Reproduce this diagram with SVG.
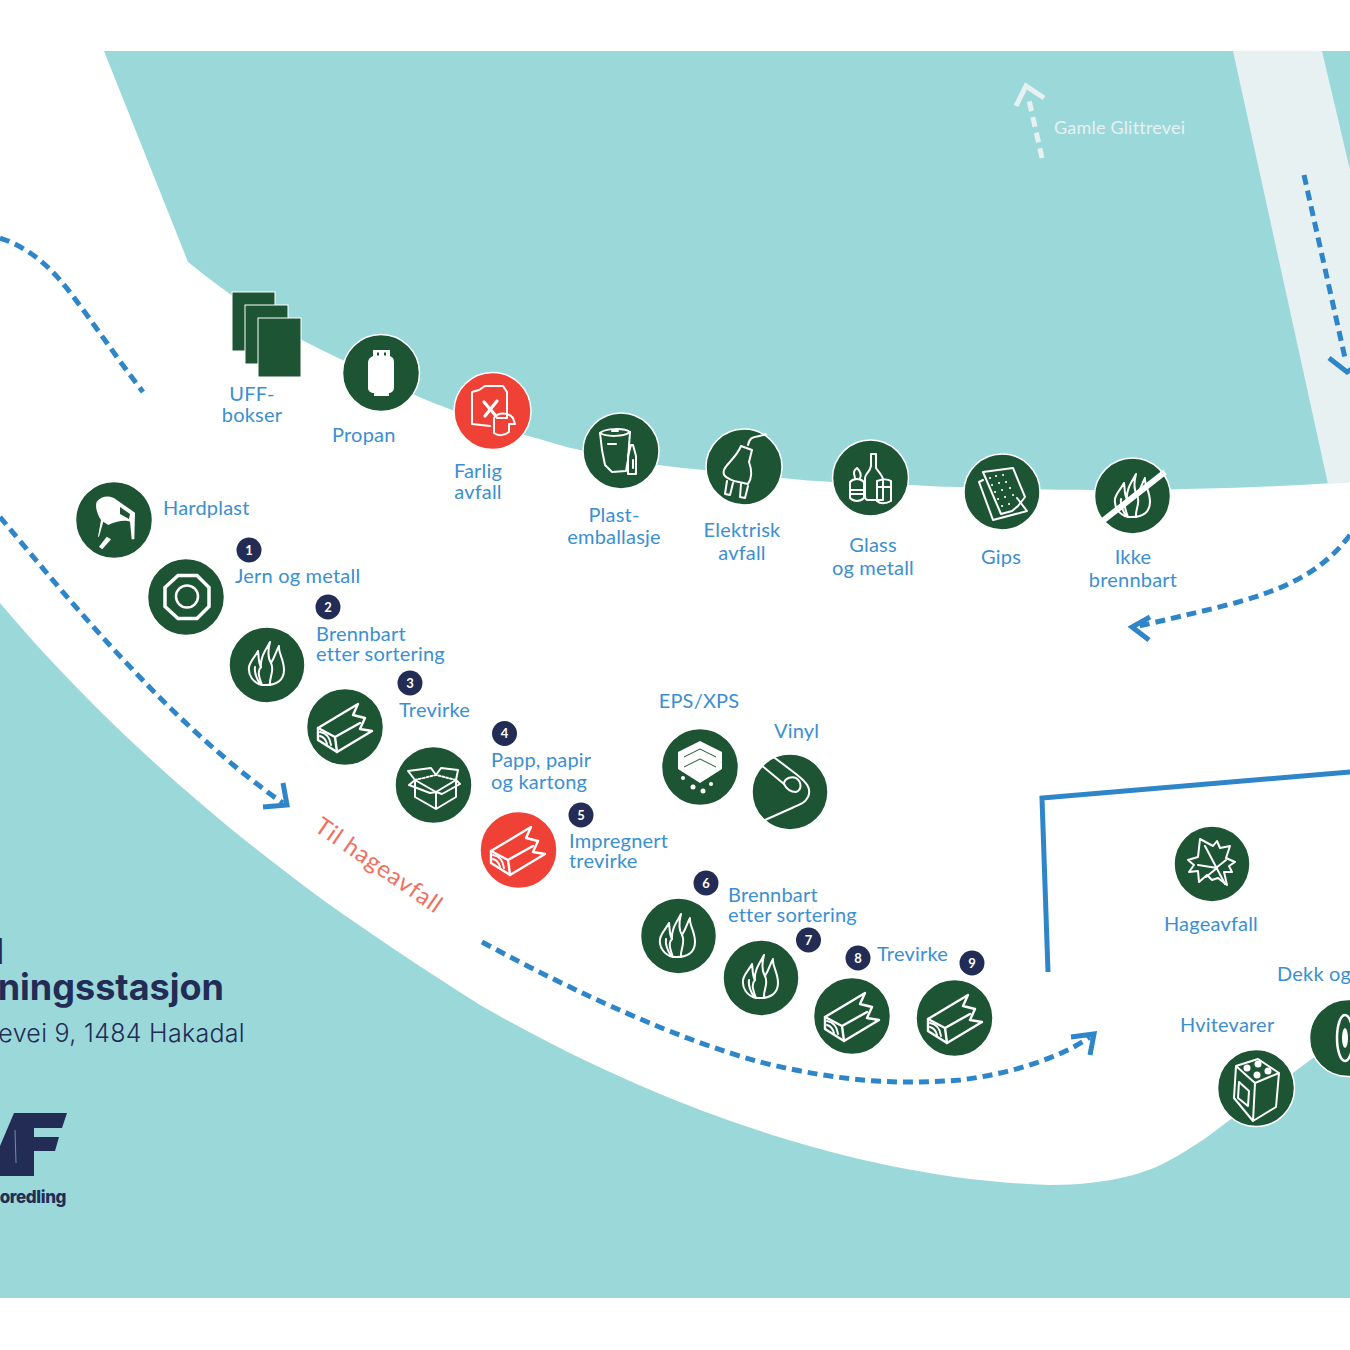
<svg xmlns="http://www.w3.org/2000/svg" width="1350" height="1350" viewBox="0 0 1350 1350">
<style>
.t{font-family:"Lato","Liberation Sans",sans-serif;font-size:20px;fill:#3b8fd1;letter-spacing:.2px}
.m{text-anchor:middle}
.d{fill:none;stroke:#2e86c9;stroke-width:5;stroke-dasharray:10 6}
.h{fill:none;stroke:#2e86c9;stroke-width:5}
.n{fill:#1d5433;stroke:#fff;stroke-width:1.5}
.r{fill:#ef4136;stroke:#fff;stroke-width:1.5}
.i{fill:none;stroke:#fff;stroke-width:2;stroke-linejoin:round;stroke-linecap:round}
.f{fill:#fff;stroke:none}
.bc{fill:#232c55}
.bt{font-family:"Lato","Liberation Sans",sans-serif;font-size:13px;font-weight:700;fill:#fff;text-anchor:middle}
.b{fill:#1d5433;stroke:#fff;stroke-width:1}
.nv{font-family:"Inter","Liberation Sans",sans-serif;fill:#232c55;text-anchor:end}
</style>
<defs>
<g id="wood" class="i">
<path d="M-27,1L13,-23L8,-12L20,-9L15,2L27,4L-8,25L-27,13Z" stroke-width="2.400"/>
<path d="M-27,1L-10,10L-8,25M-10,10L15,-4" stroke-width="2.400"/>
<path d="M-25,5C-19,6 -15,10 -14,18M-25,9C-21,10 -19,13 -18,17"/>
</g>
<g id="flame" class="i">
<path d="M-5,20C-14,18 -19,10 -18,2C-17,-4 -12,-8 -9,-14C-8,-8 -9,-3 -6,2C-7,-8 -1,-15 3,-23C1,-15 0,-8 4,-2C8,-8 9,-14 12,-19C11,-12 17,-6 17,5C17,15 10,21 -5,20Z"/>
<path d="M-5,20C-8,12 -10,6 -6,2M4,-2C8,6 2,12 3,20M-12,2C-13,8 -10,14 -7,19"/>
</g>
</defs>

<rect x="0" y="51" width="1350" height="1247" fill="#9bd8da"/>
<path id="road" d="M0,51L104,51L188,262C225,292 265,320 302,340C325,352 345,361 360,368C380,378 398,388 415,395C430,402 442,406 452,410C480,421 505,430 532,437C550,442 565,447 580,450C610,457 635,462 658,465C675,467 690,469 705,470C735,474 760,476 782,478C800,480 815,481 833,482C860,484 885,485 908,485C930,486 945,487 963,487C1010,489 1060,490 1100,490C1180,490 1260,488 1350,482L1350,1030L1313,1058L1203,1140C1190,1148 1180,1155 1170,1160C1150,1172 1110,1185 1050,1185C880,1180 680,1120 480,1005C425,970 375,937 323,900C200,810 90,710 0,603Z" fill="#fff"/>
<path id="lane" d="M1233,51L1322,51L1350,170L1350,482L1328,484Z" fill="#e8f1f2"/>

<g id="connectors">
<path class="d" d="M0,238C30,248 52,268 72,295C95,325 118,360 143,392"/>
<path class="d" d="M0,517C40,565 85,620 135,672C180,720 235,770 283,803"/>
<path class="h" d="M283,783L287,805L263,807"/>
<path class="d" d="M482,942C580,995 680,1040 760,1062C840,1082 900,1085 960,1080C1010,1074 1060,1058 1090,1037"/>
<path class="h" d="M1071,1037L1094,1034L1090,1055"/>
<path class="d" d="M1350,535C1320,575 1280,590 1235,603C1200,612 1165,620 1135,627"/>
<path class="h" d="M1150,617L1132,627L1149,640"/>
<path class="d" d="M1304,175L1345,358"/>
<path class="h" d="M1329,358L1347,372L1355,367"/>
<path d="M1042,158L1029,100" fill="none" stroke="#e8f1f2" stroke-width="5" stroke-dasharray="10 6"/>
<path d="M1016,106L1026,86L1044,98" fill="none" stroke="#e8f1f2" stroke-width="5"/>
<path class="h" d="M1048,972L1042,798L1350,772"/>
</g>

<g id="uff">
<rect class="b" x="232" y="292" width="43" height="59"/>
<rect class="b" x="245" y="305" width="43" height="59"/>
<rect class="b" x="258" y="318" width="43" height="59"/>
<text class="t m" x="252" y="401">UFF-</text>
<text class="t m" x="252" y="422">bokser</text>
</g>
<g id="propan">
<circle class="n" cx="381" cy="373" r="38.500"/>
<path class="f" d="M373,350H390V356C394,358 394,360 394,364V388C394,391 391,393 389,393V396H374V393C371,393 368,391 368,388V364C368,360 369,358 373,356Z"/>
<path d="M377,354h2M384,354h2" stroke="#1d5433" stroke-width="3" fill="none"/>
<text class="t" x="332" y="442">Propan</text>
</g>
<g id="farlig">
<circle class="r" cx="492.500" cy="411" r="38.500"/>
<g class="i" stroke-width="2">
<path d="M472,392L479,390L485,386H503L507,392V418H497M472,392V424L490,426"/>
<path d="M484,402L496,416M497,401L485,416" stroke-width="3.200"/>
<path d="M494,418C498,412 508,412 513,418L515,424H509V432C504,436 498,436 494,433Z"/>
</g>
<text class="t m" x="478" y="478">Farlig</text>
<text class="t m" x="478" y="499">avfall</text>
</g>
<g id="plast">
<circle class="n" cx="621" cy="451" r="38"/>
<g class="i" stroke-width="2">
<path d="M600,433C605,428 625,428 630,432L628,460L626,471L612,472L605,465L602,450Z"/>
<path d="M600,433C606,437 624,437 630,432M612,431H618M608,444H616"/>
<path d="M628,456L631,445H633L636,456V474H628Z"/>
<path d="M633,460V468"/>
</g>
<text class="t m" x="614" y="522">Plast-</text>
<text class="t m" x="614" y="544">emballasje</text>
</g>
<g id="elektrisk">
<circle class="n" cx="744" cy="467" r="38"/>
<g class="i" stroke-width="2">
<path d="M766,434C758,438 750,434 748,445"/>
<path d="M741,446L752,450L749,462C752,470 752,478 748,484L734,481C727,478 722,476 724,470C726,464 736,458 741,446Z"/>
<path d="M727,481L725,494L730,495L733,483M741,484L740,497L745,498L748,486"/>
</g>
<text class="t m" x="742" y="537">Elektrisk</text>
<text class="t m" x="742" y="560">avfall</text>
</g>
<g id="glass">
<circle class="n" cx="870.500" cy="478" r="38"/>
<g class="i" stroke-width="2">
<path d="M871,454H876V468C880,474 883,476 883,480V500H868C865,500 865,498 865,496V478C865,474 870,472 871,466Z"/>
<path d="M877,481C882,479 888,479 891,481V501C886,504 880,504 877,501Z M877,487H891"/>
<path d="M850,482C854,478 860,478 864,482V498C860,502 854,502 850,498Z M850,490H864M850,494H864"/>
<path d="M855,478C853,472 854,470 857,468C861,472 861,476 860,478"/>
</g>
<text class="t m" x="873" y="552">Glass</text>
<text class="t m" x="873" y="575">og metall</text>
</g>
<g id="gips">
<circle class="n" cx="1002" cy="492" r="38"/>
<g class="i" stroke-width="2">
<path d="M983,472L1013,468L1025,497L1018,506L1012,511L1001,514Z"/>
<path d="M983,480L979,482L993,520L1027,511L1017,498"/>
<path d="M990,478h.1M996,476h.1M1003,475h.1M992,485h.1M999,483h.1M1006,482h.1M995,492h.1M1002,490h.1M1010,488h.1M998,499h.1M1005,497h.1M1013,495h.1M1002,506h.1M1009,504h.1" stroke-width="2"/>
</g>
<text class="t m" x="1001" y="564">Gips</text>
</g>
<g id="ikke">
<circle class="n" cx="1132.500" cy="496" r="38"/>
<use href="#flame" transform="translate(1133,497)"/>
<path d="M1100,523L1165,472" stroke="#fff" stroke-width="6" fill="none"/>
<text class="t m" x="1133" y="564">Ikke</text>
<text class="t m" x="1133" y="587">brennbart</text>
</g>
<g id="hardplast">
<circle class="n" cx="114" cy="520" r="38.500"/>
<path class="f" d="M96.700,501.700C101.700,495 111.700,495 116.700,500L135,512.700L134.300,539.300L131.700,539.300L130,521.700C125,519.300 115,521.700 108.300,525L103.300,521.700L99,536.700L98,536.700L101,520C96.700,513.300 95,506.700 96.700,501.700Z"/>
<path d="M120,507L130,514L129,519L120,514Z" fill="#1d5433"/>
<path class="f" d="M106.700,536.700L111,539.300L102.300,549.300L99,546.700Z"/>
<text class="t" x="163" y="515">Hardplast</text>
</g>
<g id="jern">
<circle class="n" cx="186" cy="597" r="38.500"/>
<path d="M178,575.500H197L209,587.500V606.500L197,618.500H178L165,606.500V587.500Z" fill="none" stroke="#fff" stroke-width="3.500"/>
<circle cx="187" cy="596.500" r="11" fill="none" stroke="#fff" stroke-width="2.500"/>
<text class="t" x="235" y="583">Jern og metall</text>
</g>
<g id="brennbart1">
<circle class="n" cx="267" cy="665" r="38"/>
<use href="#flame" x="267" y="665"/>
<text class="t" x="316" y="641">Brennbart</text>
<text class="t" x="316" y="661">etter sortering</text>
</g>
<g id="trevirke1">
<circle class="n" cx="345" cy="727" r="38.500"/>
<use href="#wood" x="345" y="727"/>
<text class="t" x="399" y="717">Trevirke</text>
</g>
<g id="papp">
<circle class="n" cx="433.500" cy="785" r="38.500"/>
<g class="i">
<path d="M415,797L436,809L456,797V780L436,792L415,780ZM436,792V809"/>
<path d="M415,780L409,785L430,793L436,792M456,780L460,784L442,794L436,792"/>
<path d="M415,780L408,771L431,768L436,775L441,768L458,770L456,780"/>
<path d="M415,780L436,775L456,780" stroke-dasharray="2 2"/>
</g>
<text class="t" x="491" y="767">Papp, papir</text>
<text class="t" x="491" y="789">og kartong</text>
</g>
<g id="impregnert">
<circle class="r" cx="518.500" cy="850" r="38.500"/>
<use href="#wood" x="518" y="850"/>
<text class="t" x="569" y="848">Impregnert</text>
<text class="t" x="569" y="868">trevirke</text>
</g>
<g id="eps">
<circle class="n" cx="700" cy="767" r="38.500"/>
<path class="f" d="M678,752L700,741L722,752V769L700,783L678,769Z"/>
<path d="M684,757L700,749L716,757M684,767L700,759L716,767" fill="none" stroke="#1d5433" stroke-width="1"/>
<path d="M680,762h.1M684,771h.1M690,776h.1M710,776h.1M716,771h.1M720,762h.1M695,769h.1M705,769h.1M700,775h.1" stroke="#1d5433" stroke-width="2" fill="none"/>
<circle class="f" cx="683" cy="778" r="2"/><circle class="f" cx="693" cy="787" r="2.500"/><circle class="f" cx="703" cy="791" r="2.500"/><circle class="f" cx="711" cy="784" r="2"/>
<text class="t m" x="699" y="708">EPS/XPS</text>
</g>
<g id="vinyl">
<circle class="n" cx="790" cy="792" r="38"/>
<g class="i" stroke-width="2.500">
<path d="M761,765L784,784M771,755L796,774C806,782 812,788 808,797C804,804 800,804 792,808L765,820"/>
<path d="M784,784C784,778 792,776 796,778C802,782 802,790 796,792C790,792 786,788 784,784Z"/>
</g>
<text class="t" x="774" y="738">Vinyl</text>
</g>
<g id="brennbart2">
<circle class="n" cx="678.500" cy="936" r="38"/>
<use href="#flame" x="678" y="937"/>
<text class="t" x="728" y="902">Brennbart</text>
<text class="t" x="728" y="922">etter sortering</text>
</g>
<g id="brennbart3">
<circle class="n" cx="761" cy="978" r="38"/>
<use href="#flame" x="761" y="978"/>
</g>
<g id="trevirke2">
<circle class="n" cx="852" cy="1016" r="38.500"/>
<use href="#wood" x="852" y="1016"/>
<text class="t" x="877" y="961">Trevirke</text>
</g>
<g id="trevirke3">
<circle class="n" cx="954.500" cy="1018" r="38.500"/>
<use href="#wood" x="955" y="1018"/>
</g>
<g id="hageavfall">
<circle class="n" cx="1212" cy="864" r="38"/>
<g class="i" stroke-width="2">
<path d="M1200,839L1213,846L1217,841L1220,848L1230,846L1226,858L1235,862L1229,866L1232,872L1224,872L1227,885L1218,878L1212,880L1207,875L1199,882L1198,871L1189,872L1194,865L1188,860L1198,857Z"/>
<path d="M1205,846L1225,884M1198,865L1217,868M1216,868L1226,860M1206,877L1217,868"/>
</g>
<text class="t m" x="1211" y="931">Hageavfall</text>
</g>
<g id="dekk">
<circle class="n" cx="1348" cy="1038" r="38.500"/>
<ellipse cx="1345" cy="1038" rx="8" ry="23" fill="none" stroke="#fff" stroke-width="2.500"/>
<ellipse cx="1345" cy="1038" rx="3" ry="10" class="f"/>
<text class="t" x="1277" y="981">Dekk og</text>
</g>
<g id="hvitevarer">
<circle class="n" cx="1256" cy="1088" r="38.500"/>
<g class="i" stroke-width="2">
<path d="M1236,1066L1258,1059L1279,1073L1255,1083ZM1236,1066L1234,1098L1253,1121L1255,1083M1279,1073L1276,1107L1253,1121"/>
<path d="M1239,1082L1249,1091L1248,1106L1238,1098Z"/>
</g>
<circle class="f" cx="1247" cy="1068" r="3.500"/><circle class="f" cx="1258" cy="1064" r="3.500"/><circle class="f" cx="1268" cy="1071" r="3.500"/><circle class="f" cx="1257" cy="1075" r="3.500"/>
<text class="t" x="1180" y="1032">Hvitevarer</text>
</g>
<g id="badges">
<circle class="bc" cx="249" cy="550" r="12.500"/><text class="bt" x="249" y="554.500">1</text>
<circle class="bc" cx="328" cy="607" r="12.500"/><text class="bt" x="328" y="611.500">2</text>
<circle class="bc" cx="410" cy="683" r="12.500"/><text class="bt" x="410" y="687.500">3</text>
<circle class="bc" cx="504.500" cy="733.500" r="12.500"/><text class="bt" x="504.500" y="738">4</text>
<circle class="bc" cx="581" cy="815" r="12.500"/><text class="bt" x="581" y="819.500">5</text>
<circle class="bc" cx="706" cy="883" r="12.500"/><text class="bt" x="706" y="887.500">6</text>
<circle class="bc" cx="808.500" cy="940" r="12.500"/><text class="bt" x="808.500" y="944.500">7</text>
<circle class="bc" cx="858" cy="958" r="12.500"/><text class="bt" x="858" y="962.500">8</text>
<circle class="bc" cx="972" cy="963" r="12.500"/><text class="bt" x="972" y="967.500">9</text>
</g>
<text x="1054" y="134" font-family="Lato,'Liberation Sans',sans-serif" font-size="18" fill="#e8f1f2" letter-spacing=".2">Gamle Glittrevei</text>
<text transform="translate(313,830) rotate(34.500)" font-family="Lato,'Liberation Sans',sans-serif" font-size="24" fill="#f0705f" letter-spacing=".8">Til hageavfall</text>
<g id="title">
<text class="nv" x="4" y="964" font-size="36" font-weight="700">l</text>
<text class="nv" x="224" y="1000" font-size="36" font-weight="700">ningsstasjon</text>
<text class="nv" x="245" y="1042" font-size="25" font-weight="300" letter-spacing=".3">evei 9, 1484 Hakadal</text>
<path d="M14,1113H67L62,1128H34V1137H59L55,1151H34V1176H0V1146Z" fill="#232c55"/>
<path d="M15,1130L16,1163" stroke="#9bd8da" stroke-width=".6" fill="none"/>
<text class="nv" x="66" y="1203" font-size="17" font-weight="800" letter-spacing="-.4">oredling</text>
</g>
</svg>
